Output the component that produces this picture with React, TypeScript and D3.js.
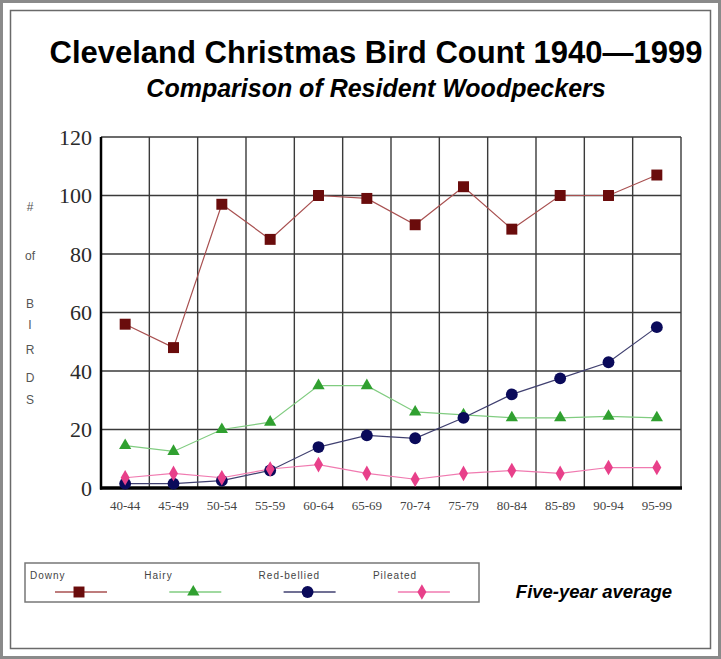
import React, { useEffect } from "react";
import * as d3 from "d3";

const categories = ["40-44", "45-49", "50-54", "55-59", "60-64", "65-69", "70-74", "75-79", "80-84", "85-89", "90-94", "95-99"];
const downy = [56, 48, 97, 85, 100, 99, 90, 103, 88.5, 100, 100, 107];
const hairy = [14.5, 12.5, 20, 22.5, 35, 35, 26, 25, 24, 24, 24.5, 24];
const redBellied = [1.5, 1.5, 2.5, 6, 14, 18, 17, 24, 32, 37.5, 43, 55];
const pileated = [3.5, 5, 3.5, 6.5, 8, 5, 3, 5, 6, 5, 7, 7];
const yTicks = [0, 20, 40, 60, 80, 100, 120];
const seriesNames = ["Downy", "Hairy", "Red-bellied", "Pileated"];
const axisLetters = [
  { t: "#", y: 207 },
  { t: "of", y: 256 },
  { t: "B", y: 304 },
  { t: "I", y: 325 },
  { t: "R", y: 350 },
  { t: "D", y: 378 },
  { t: "S", y: 400 },
];

const W = 721;
const H = 659;

const series = [
  { name: seriesNames[0], values: downy, fill: "#6a0c0c", line: "#a85050", symbol: d3.symbolSquare, size: 120 },
  { name: seriesNames[1], values: hairy, fill: "#30a030", line: "#80cc80", symbol: d3.symbolTriangle, size: 65 },
  { name: seriesNames[2], values: redBellied, fill: "#0a0a5a", line: "#404070", symbol: d3.symbolCircle, size: 110 },
  { name: seriesNames[3], values: pileated, fill: "#e8408a", line: "#f07ab0", symbol: d3.symbolDiamond, size: 70 },
];

export default function App() {
  useEffect(() => {
    document.body.style.margin = "0";
  }, []);

  const x = d3.scaleBand<string>().domain(categories).range([101, 681]);
  const y = d3.scaleLinear().domain([0, 120]).range([488, 137]);
  const cx = (c: string) => (x(c) as number) + x.bandwidth() / 2;

  const line = d3
    .line<number>()
    .x((_, i) => cx(categories[i]))
    .y((d) => y(d));

  const vLines = [...categories.map((c) => x(c) as number), 681];

  const legendX0 = 30;
  const legendStep = 114.3;

  return (
    <svg width={W} height={H} style={{ display: "block", position: "absolute", left: 0, top: 0, background: "#fff" }}>
      {/* frame */}
      <rect x={1.5} y={1.5} width={W - 3} height={H - 3} fill="none" stroke="#8a8a8a" strokeWidth={3} />
      <rect x={10.5} y={10.5} width={W - 21} height={H - 21} fill="none" stroke="#6a6a6a" strokeWidth={1.5} />

      {/* titles */}
      <text x={376} y={63} textAnchor="middle" fontFamily="'Liberation Sans', Arial, sans-serif" fontWeight="bold" fontSize={31} fill="#000">
        Cleveland Christmas Bird Count 1940—1999
      </text>
      <text x={376} y={97} textAnchor="middle" fontFamily="'Liberation Sans', Arial, sans-serif" fontWeight="bold" fontStyle="italic" fontSize={25} fill="#000">
        Comparison of Resident Woodpeckers
      </text>

      {/* grid */}
      {yTicks.map((t) => (
        <line key={"h" + t} x1={101} x2={681} y1={y(t)} y2={y(t)} stroke="#3a3a3a" strokeWidth={1.4} />
      ))}
      {vLines.map((v, i) => (
        <line key={"v" + i} x1={v} x2={v} y1={y(120)} y2={y(0)} stroke="#3a3a3a" strokeWidth={1.4} />
      ))}
      <line x1={101} x2={101} y1={y(120)} y2={y(0) + 1.5} stroke="#000" strokeWidth={2.5} />
      <line x1={100} x2={682} y1={y(0)} y2={y(0)} stroke="#000" strokeWidth={3.5} />

      {/* y tick labels */}
      {yTicks.map((t) => (
        <text key={"yl" + t} x={92} y={y(t)} dy="0.35em" textAnchor="end" fontFamily="'Liberation Serif', 'Times New Roman', serif" fontSize={22} fill="#2a2a2a">
          {t}
        </text>
      ))}

      {/* y axis title letters */}
      {axisLetters.map((a, i) => (
        <text key={"al" + i} x={30} y={a.y} dy="0.35em" textAnchor="middle" fontFamily="'Liberation Sans', Arial, sans-serif" fontSize={12} fill="#555">
          {a.t}
        </text>
      ))}

      {/* x tick labels */}
      {categories.map((c) => (
        <text key={"xl" + c} x={cx(c)} y={505} dy="0.35em" textAnchor="middle" fontFamily="'Liberation Serif', 'Times New Roman', serif" fontSize={13} fill="#444">
          {c}
        </text>
      ))}

      {/* series */}
      {series.map((s) => (
        <path key={"l" + s.name} d={line(s.values) || ""} fill="none" stroke={s.line} strokeWidth={1.2} />
      ))}
      {series.map((s) => (
        <g key={"m" + s.name}>
          {s.values.map((v, i) => (
            <path
              key={i}
              d={d3.symbol().type(s.symbol).size(s.size)() || ""}
              transform={`translate(${cx(categories[i])},${y(v)})`}
              fill={s.fill}
            />
          ))}
        </g>
      ))}

      {/* legend */}
      <rect x={25} y={563} width={454} height={39} fill="#fff" stroke="#777" strokeWidth={1.5} />
      {series.map((s, i) => {
        const tx = legendX0 + i * legendStep;
        const mx = tx + 49;
        return (
          <g key={"lg" + s.name}>
            <text x={tx} y={575} dy="0.35em" fontFamily="'Liberation Sans', Arial, sans-serif" fontSize={10} letterSpacing={1} fill="#444">
              {s.name}
            </text>
            <line x1={mx - 24} x2={mx + 28} y1={592} y2={592} stroke={s.line} strokeWidth={1.3} />
            <path d={d3.symbol().type(s.symbol).size(s.size)() || ""} transform={`translate(${mx},${592})`} fill={s.fill} />
          </g>
        );
      })}
      <text x={594} y={592} dy="0.35em" textAnchor="middle" fontFamily="'Liberation Sans', Arial, sans-serif" fontWeight="bold" fontStyle="italic" fontSize={18.5} fill="#000">
        Five-year average
      </text>
    </svg>
  );
}
